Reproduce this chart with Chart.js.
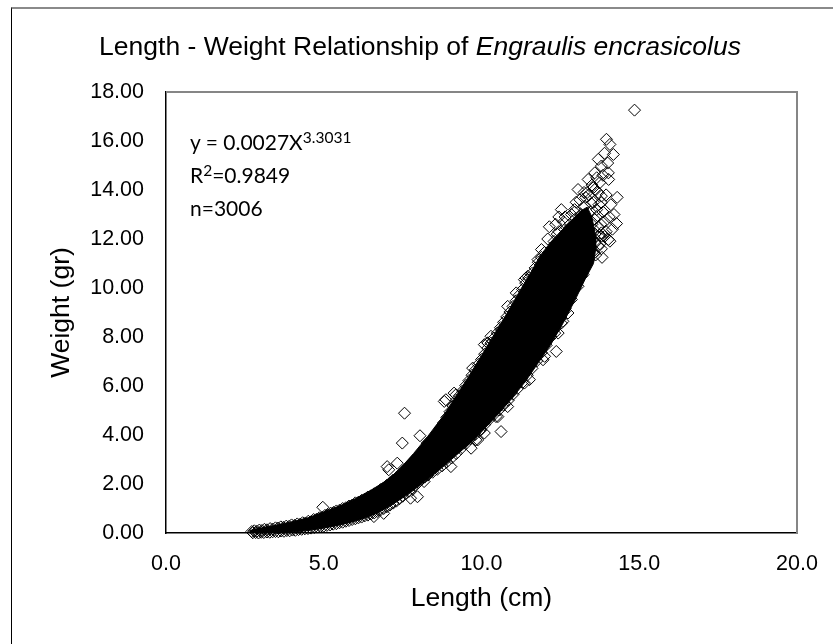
<!DOCTYPE html>
<html>
<head>
<meta charset="utf-8">
<script src="https://cdn.jsdelivr.net/npm/chart.js@4.4.1/dist/chart.umd.min.js"></script>
<style>
  body { margin: 0; background: #fff; }
  #wrap { position: relative; width: 833px; height: 644px; overflow: hidden; }
  #frame { position: absolute; left: 11px; top: 7px; right: -5px; bottom: -5px;
           border-top: 2px solid #8a8a8a; border-left: 1px solid #000; }
  canvas { position: absolute; left: 0; top: 0; }
  #title { position: absolute; left: 0; width: 840px; top: 30px; text-align: center;
           font: 26.5px "Liberation Sans", Arial, sans-serif; line-height: 32px; color: #000; }
  #note { position: absolute; left: 190px; top: 125px; color: #000;
          font: 21px Lato, "Open Sans", sans-serif; line-height: 33px; }
  #note sup { font-size: 0.74em; vertical-align: 0.45em; line-height: 0; }
</style>
</head>
<body>
<div id="wrap">
  <div id="frame"></div>
  <canvas id="chart" width="833" height="644"></canvas>
  <div id="title">Length - Weight Relationship of <i>Engraulis encrasicolus</i></div>
  <div id="note">y = 0.0027X<sup>3.3031</sup><br>R<sup>2</sup>=0.9849<br>n=3006</div>
</div>
<script>
// axis ticks
const lengthTicks = [0, 5, 10, 15, 20];
const weightTicks = [0, 2, 4, 6, 8, 10, 12, 14, 16, 18];

// single fish (edges of the cloud + stray points)
const lengthCm = [
  2.72,2.8,2.88,2.96,3.04,3.12,3.2,3.3,3.38,3.47,
  3.55,3.64,3.72,3.81,3.9,3.98,4.07,4.16,4.25,4.33,
  4.42,4.51,4.6,4.68,4.77,4.86,4.95,5.04,5.13,5.22,
  5.31,5.4,5.5,5.6,5.7,5.8,5.9,6.0,6.1,6.2,
  6.3,6.4,6.5,6.6,6.7,6.8,6.9,7.0,7.1,7.2,
  7.3,7.4,7.5,7.6,7.7,7.8,7.9,8.0,8.1,8.2,
  2.75,2.84,2.93,3.02,3.1,3.2,3.29,3.38,3.47,3.56,
  3.65,3.74,3.83,3.92,4.01,4.1,4.2,4.3,4.4,4.5,
  4.6,4.7,4.8,4.9,5.0,5.1,5.2,5.3,5.4,5.5,
  5.6,5.7,5.8,5.9,6.0,6.1,6.2,6.3,6.4,6.5,
  6.6,6.7,6.8,6.9,7.0,7.1,7.2,7.3,7.4,7.5,
  7.6,7.7,7.8,7.9,8.0,8.1,8.2,
  8.3,8.4,8.5,8.6,8.7,8.8,8.9,9.0,9.1,9.2,
  9.3,9.4,9.5,9.6,9.7,9.8,9.9,10.0,10.1,10.2,
  10.3,10.4,10.5,10.6,10.7,10.8,10.9,11.0,11.1,11.2,
  11.3,11.4,11.5,11.6,11.7,11.8,11.9,12.0,
  8.3,8.45,8.6,8.75,8.9,9.05,9.2,9.35,9.5,9.65,
  9.8,9.95,10.1,10.25,10.4,10.55,10.7,10.85,11.0,11.15,
  11.3,11.45,11.6,11.75,11.9,12.05,12.2,12.35,12.5,12.65,
  12.8,12.95,13.1,13.25,13.4,13.55,
  14.85,13.96,14.07,14.18,13.7,13.8,14.03,13.38,13.06,13.59,
  13.8,12.53,13.27,13.8,12.96,13.59,14.28,12.64,13.38,13.8,
  14.07,11.9,13.06,13.7,11.79,11.47,13.59,14.02,13.8,14.02,
  13.27,13.17,11.36,13.06,10.83,12.85,12.74,12.53,12.43,10.2,
  12.37,12.3,12.45,12.6,12.75,12.85,12.9,13.0,13.1,13.15,
  13.2,13.3,13.35,13.45,13.5,13.55,13.65,13.7,13.75,13.85,
  13.9,13.95,14.1,14.15,12.7,13.0,13.4,13.6,12.2,
  12.1,12.35,12.55,12.8,12.95,13.05,13.25,13.4,13.5,13.65,
  13.7,13.85,13.9,14.0,13.6,13.95,14.2,14.3,13.15,12.45,
  12.15,13.3,13.55,13.8,14.05,
  13.35,13.55,13.72,13.78,12.95,12.65,13.75,13.12,12.4,13.9,
  13.68,13.74,13.62,13.48,13.82,
  7.56,7.49,8.05,8.82,9.13,9.19,10.09,10.3,10.62,11.1,
  11.41,7.01,7.33,7.97,8.18,9.03,9.67,9.88,10.09,10.62,
  10.52,10.83,11.36,11.47,11.47,4.97,7.75,6.9,6.59,7.06,
  8.28,9.98,9.82,10.73,10.94,11.52,11.95,12.0,12.32,12.58,
  12.63,12.95,13.22,13.22,10.46,8.87,9.72,10.2
];
const weightGr = [
  0.06,0.09,0.07,0.12,0.1,0.15,0.13,0.18,0.16,0.21,
  0.2,0.25,0.23,0.28,0.27,0.33,0.31,0.37,0.36,0.42,
  0.41,0.48,0.46,0.55,0.56,0.62,0.64,0.72,0.74,0.81,
  0.84,0.9,0.93,1.0,1.03,1.1,1.14,1.23,1.26,1.33,
  1.38,1.47,1.52,1.6,1.66,1.77,1.84,1.95,2.05,2.16,
  2.25,2.38,2.5,2.62,2.74,2.88,3.02,3.15,3.3,3.45,
  0.01,0.02,0,0.03,0.02,0.04,0.03,0.05,0.06,0.05,
  0.08,0.07,0.1,0.09,0.12,0.11,0.14,0.15,0.17,0.18,
  0.2,0.22,0.24,0.27,0.28,0.31,0.33,0.36,0.38,0.42,
  0.44,0.48,0.51,0.55,0.58,0.62,0.65,0.7,0.73,0.78,
  0.82,0.88,0.94,1.0,1.07,1.14,1.22,1.3,1.4,1.5,
  1.6,1.7,1.82,1.94,2.06,2.18,2.28,
  3.62,3.75,3.92,4.08,4.3,4.5,4.72,4.95,5.18,5.42,
  5.6,5.8,6.02,6.22,6.44,6.65,6.88,7.08,7.3,7.55,
  7.75,7.96,8.16,8.38,8.6,8.82,9.02,9.25,9.48,9.72,
  9.94,10.2,10.4,10.6,10.82,11.05,11.25,11.45,
  2.36,2.48,2.6,2.74,2.9,3.06,3.24,3.44,3.64,3.85,
  4.02,4.2,4.42,4.64,4.84,5.02,5.22,5.42,5.66,5.9,
  6.14,6.44,6.72,7.02,7.36,7.66,8.0,8.36,8.76,9.16,
  9.58,10.0,10.42,10.8,11.15,11.5,
  17.26,16.07,15.86,15.45,15.25,14.98,14.43,14.43,14.02,14.02,
  13.75,13.2,13.34,13.48,12.8,12.8,12.63,12.39,12.39,12.11,
  11.91,11.57,11.84,11.7,11.16,10.48,14.7,14.7,12.25,11.98,
  10.89,10.48,10.34,10.07,9.25,9.53,8.98,8.57,8.16,7.76,
  7.41,11.9,12.3,12.7,12.2,13.0,12.5,13.5,12.3,13.0,
  12.6,13.7,12.1,13.1,12.6,13.5,13.2,12.5,14.3,13.1,
  12.7,13.8,13.4,12.4,11.7,11.3,11.6,11.9,11.5,
  12.0,12.6,11.9,12.6,13.1,12.7,13.9,13.8,14.2,14.5,
  13.9,14.6,15.5,15.1,12.2,12.3,13.0,13.7,11.9,12.9,
  12.5,12.4,11.4,11.6,12.9,
  13.9,14.1,13.4,12.6,13.2,12.9,11.8,13.6,12.2,12.1,
  12.95,12.15,11.35,13.45,11.25,
  4.89,3.67,3.97,5.37,5.71,5.64,7.69,8.03,8.3,9.8,
  10.41,2.71,2.85,1.48,2.1,2.71,3.46,3.8,4.08,4.14,
  4.75,5.16,6.12,6.8,7.76,1.05,1.42,0.8,0.67,2.58,
  3.67,4.21,3.8,5.3,5.71,6.26,7.07,7.21,8.16,8.64,
  9.05,10.07,10.55,10.96,4.75,5.44,6.73,7.76
];

// outline of the solid black part where ~3000 markers overlap
// (upper side left to right, round the tip, then lower side back)
const cloudLength = [
  2.65,3.0,3.5,4.0,4.5,5.0,5.5,6.0,6.5,7.0,7.4,7.85,8.3,8.8,9.2,9.6,10.0,10.4,10.8,11.2,11.55,11.85,12.15,12.5,12.85,13.15,13.35,
  13.5,13.6,13.62,13.55,
  13.3,13.0,12.6,12.2,11.8,11.4,11.0,10.6,10.2,9.8,9.4,9.0,8.6,8.2,7.8,7.4,7.0,6.6,6.2,5.8,5.4,5.0,4.5,4.0,3.5,3.0,2.65
];
const cloudWeight = [
  0.1,0.2,0.32,0.46,0.62,0.86,1.1,1.4,1.75,2.15,2.6,3.25,3.95,4.8,5.6,6.4,7.25,8.1,8.95,9.85,10.6,11.3,11.8,12.3,12.75,13.15,13.3,
  12.9,12.2,11.6,11.0,
  10.4,9.6,8.6,7.7,6.95,6.2,5.55,4.95,4.4,3.85,3.4,2.95,2.5,2.1,1.7,1.35,1.02,0.76,0.56,0.42,0.3,0.2,0.1,0.04,0.0,0.0,0.0
];

const points = lengthCm.map((l, i) => ({ x: l, y: weightGr[i] }));
const cloud = cloudLength.map((l, i) => ({ x: l, y: cloudWeight[i] }));

const font = "'Liberation Sans', Arial, sans-serif";

// grey top/right edge of the plot area
const plotFrame = {
  id: 'plotFrame',
  beforeDatasetsDraw(chart) {
    const { ctx, chartArea: a } = chart;
    ctx.save();
    ctx.strokeStyle = '#868686';
    ctx.lineWidth = 2;
    ctx.beginPath();
    ctx.moveTo(a.left, a.top);
    ctx.lineTo(a.right, a.top);
    ctx.lineTo(a.right, a.bottom);
    ctx.stroke();
    ctx.restore();
  }
};

const context = document.getElementById('chart').getContext('2d');
new Chart(context, {
  type: 'scatter',
  data: {
    datasets: [{
      label: 'Fish',
      data: points,
      pointStyle: 'rectRot',
      pointRadius: 6,
      borderColor: '#000',
      borderWidth: 1,
      backgroundColor: 'rgba(0,0,0,0)',
      clip: false
    }, {
      label: 'Dense cloud',
      data: cloud,
      showLine: true,
      fill: 'shape',
      tension: 0,
      pointRadius: 0,
      borderWidth: 1,
      borderColor: '#000',
      backgroundColor: '#000'
    }]
  },
  options: {
    responsive: false,
    animation: false,
    devicePixelRatio: 1,
    events: [],
    layout: { padding: { top: 92, right: 36, left: 0, bottom: 0 } },
    plugins: { legend: { display: false }, tooltip: { enabled: false } },
    scales: {
      x: {
        type: 'linear', min: 0, max: 20,
        afterBuildTicks: (s) => { s.ticks = lengthTicks.map(v => ({ value: v })); },
        afterFit: (s) => { s.height = 111; s.paddingLeft = 0; s.paddingRight = 0; },
        grid: { display: false, drawTicks: false },
        border: { color: '#000', width: 1.5 },
        ticks: { padding: 18, color: '#000', autoSkip: false, maxRotation: 0,
                 font: { family: font, size: 21.5 }, callback: (v) => v.toFixed(1) },
        title: { display: true, text: 'Length (cm)', color: '#000',
                 font: { family: font, size: 26.5 }, padding: { top: 0, bottom: 29 } }
      },
      y: {
        type: 'linear', min: 0, max: 18,
        afterBuildTicks: (s) => { s.ticks = weightTicks.map(v => ({ value: v })); },
        afterFit: (s) => { s.width = 166; s.paddingTop = 0; s.paddingBottom = 0; },
        grid: { display: false, drawTicks: false },
        border: { color: '#000', width: 1.5 },
        ticks: { padding: 22, color: '#000', autoSkip: false,
                 font: { family: font, size: 21.5 }, callback: (v) => v.toFixed(2) },
        title: { display: true, text: 'Weight (gr)', color: '#000',
                 font: { family: font, size: 26.5 }, padding: { top: 46, bottom: 0 } }
      }
    }
  },
  plugins: [plotFrame]
});
</script>
</body>
</html>
